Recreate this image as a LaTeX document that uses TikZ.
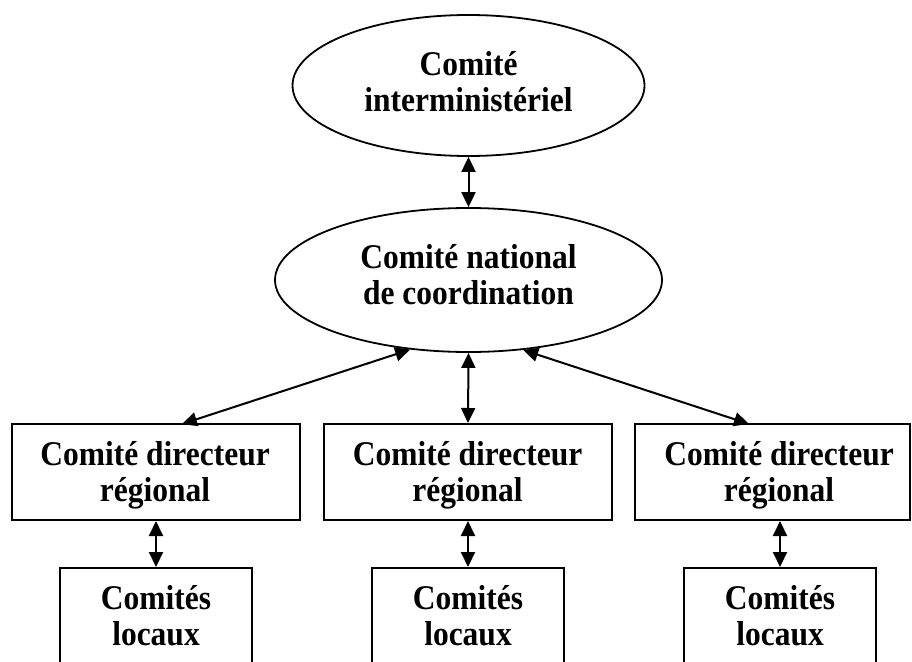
\documentclass[tikz,border=0pt]{standalone}
\usepackage{fontspec}
\usepackage{graphicx}
\setmainfont{Liberation Serif}
\usetikzlibrary{shapes.geometric,arrows.meta}
\newcommand{\tx}[1]{\scalebox{1}[1.1]{\begin{tabular}{@{}c@{}}#1\end{tabular}}}
\begin{document}
\begin{tikzpicture}[x=1pt,y=-1pt,
  every node/.style={font=\fontsize{31.5}{32.6}\selectfont\bfseries, inner sep=0pt},
  oval/.style={draw, ellipse, line width=1.8pt},
  rbox/.style={draw, rectangle, line width=2pt, minimum width=288pt, minimum height=96pt},
  lbox/.style={draw, rectangle, line width=2pt, minimum width=192pt, minimum height=104pt},
  link/.style={line width=2pt, {Triangle[length=15pt,width=14pt]}-{Triangle[length=15pt,width=14pt]}}]
\useasboundingbox (0,0) rectangle (912,661);
\clip (0,0) rectangle (912,661);
% ellipses
\node[oval, minimum width=352pt, minimum height=141pt] (top) at (468.5,85.5) {};
\node (topt) at (468.5,86) {\tx{Comité\\interministériel}};
\node[oval, minimum width=387pt, minimum height=144pt] (mid) at (468.5,280) {};
\node (midt) at (468.5,279.5) {\tx{Comité national\\de coordination}};
% regional boxes
\node[rbox] (r1) at (156,472) {};
\node (r1t) at (155,476) {\tx{Comité directeur\\régional}};
\node[rbox] (r2) at (468,472) {};
\node (r2t) at (467.5,476) {\tx{Comité directeur\\régional}};
\node[rbox, minimum width=275pt] (r3) at (772.5,472) {};
\node (r3t) at (779,476) {\tx{Comité directeur\\régional}};
% local boxes
\node[lbox] (l1) at (156,620) {};
\node (l1t) at (156,620) {\tx{Comités\\locaux}};
\node[lbox] (l2) at (468,620) {};
\node (l2t) at (468,620) {\tx{Comités\\locaux}};
\node[lbox] (l3) at (780,620) {};
\node (l3t) at (780,620) {\tx{Comités\\locaux}};
% arrow end points on box tops
\coordinate (t1) at (182,424);
\coordinate (t3) at (749,424);
% connectors
\draw[link] (top.south) -- (mid.north);
\draw[link] (mid.230.6) -- (t1);
\draw[link] (mid.south) -- (r2.north);
\draw[link] (mid.308.3) -- (t3);
\draw[link] (r1.south) -- (l1.north);
\draw[link] (r2.south) -- (l2.north);
\draw[link] (r3.south -| l3.north) -- (l3.north);
\end{tikzpicture}
\end{document}
